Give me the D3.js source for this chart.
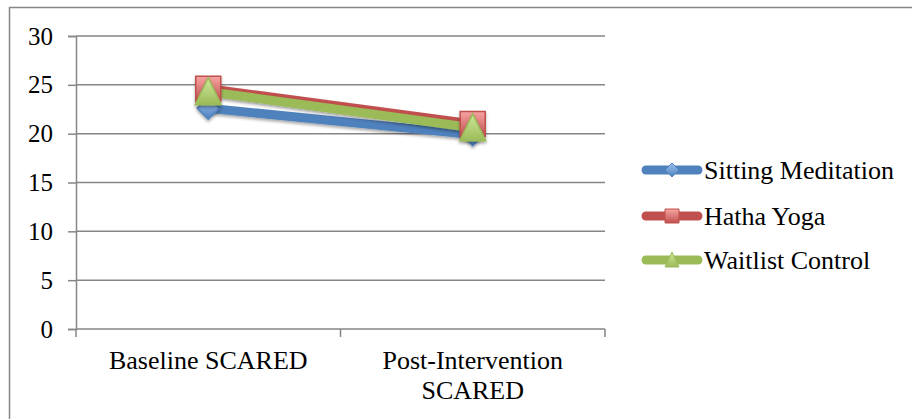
<!DOCTYPE html>
<html>
<head>
<meta charset="utf-8">
<script src="https://cdn.jsdelivr.net/npm/d3@7"></script>
<style>
  html, body { margin: 0; padding: 0; background: #fff; }
  svg { display: block; }
  svg text { font-family: "Liberation Serif", "Times New Roman", "DejaVu Serif", serif !important; fill: #000; }
</style>
</head>
<body>
<svg id="chart" width="912" height="419"></svg>
<script>
// SCARED anxiety scores by group, baseline vs. post-intervention
const categories = [["Baseline SCARED"], ["Post-Intervention", "SCARED"]];
const seriesNames = ["Sitting Meditation", "Hatha Yoga", "Waitlist Control"];
const sittingMeditation = [22.6, 19.9];
const hathaYoga = [24.6, 21.0];
const waitlistControl = [24.3, 20.6];
const yTicks = [0, 5, 10, 15, 20, 25, 30];

const seriesValues = [sittingMeditation, hathaYoga, waitlistControl];
const colors = ["#4F81BD", "#C0504D", "#9BBB59"];
const lightColors = ["#9CC0F2", "#F7A5A3", "#CFE89A"];
const markerShapes = ["diamond", "square", "triangle"];

const svg = d3.select("#chart");

// chart area frame
svg.append("rect")
  .attr("x", 9.5).attr("y", 7.5)
  .attr("width", 920).attr("height", 430)
  .attr("fill", "none").attr("stroke", "#868686").attr("stroke-width", 1.5);

const plot = { left: 76, right: 605, top: 36, bottom: 329 };

const x = d3.scaleBand()
  .domain(d3.range(categories.length))
  .range([plot.left, plot.right]);

const y = d3.scaleLinear()
  .domain([0, 30])
  .range([plot.bottom, plot.top]);

const defs = svg.append("defs");
colors.forEach((c, i) => {
  const g = defs.append("linearGradient")
    .attr("id", "grad" + i)
    .attr("x1", 0).attr("y1", 0).attr("x2", 0).attr("y2", 1);
  g.append("stop").attr("offset", "0%").attr("stop-color", lightColors[i]);
  g.append("stop").attr("offset", "100%").attr("stop-color", c);
});
const shadow = defs.append("filter").attr("id", "shadow")
  .attr("x", "-50%").attr("y", "-50%").attr("width", "200%").attr("height", "200%");
shadow.append("feDropShadow")
  .attr("dx", 0).attr("dy", 2).attr("stdDeviation", 1.8)
  .attr("flood-color", "#000").attr("flood-opacity", 0.35);

// horizontal gridlines
svg.append("g")
  .selectAll("line")
  .data(yTicks.filter(t => t > 0))
  .join("line")
  .attr("x1", plot.left).attr("x2", plot.right)
  .attr("y1", d => y(d)).attr("y2", d => y(d))
  .attr("stroke", "#868686").attr("stroke-width", 1.5);

// y axis
const yAxis = svg.append("g")
  .attr("transform", `translate(${plot.left},0)`)
  .call(d3.axisLeft(y).tickValues(yTicks).tickSize(8).tickPadding(15));
yAxis.attr("font-family", null).attr("font-size", null);
yAxis.select(".domain").attr("stroke", "#868686").attr("stroke-width", 1.5);
yAxis.selectAll(".tick line").attr("stroke", "#868686").attr("stroke-width", 1.5);
yAxis.selectAll(".tick text")
  .attr("font-size", 25).attr("fill", "#000");

// x axis with boundary ticks
const xAxisG = svg.append("g");
xAxisG.append("line")
  .attr("x1", plot.left).attr("x2", plot.right)
  .attr("y1", plot.bottom).attr("y2", plot.bottom)
  .attr("stroke", "#868686").attr("stroke-width", 1.5);
const boundaries = d3.range(categories.length + 1).map(i =>
  i < categories.length ? x(i) : x(i - 1) + x.bandwidth());
xAxisG.selectAll("line.tick")
  .data(boundaries)
  .join("line").attr("class", "tick")
  .attr("x1", d => d).attr("x2", d => d)
  .attr("y1", plot.bottom).attr("y2", plot.bottom + 8)
  .attr("stroke", "#868686").attr("stroke-width", 1.5);

const xLabels = xAxisG.selectAll("text.cat")
  .data(categories)
  .join("text").attr("class", "cat")
  .attr("x", (d, i) => x(i) + x.bandwidth() / 2)
  .attr("y", 369)
  .attr("text-anchor", "middle")
  .attr("font-size", 26);
xLabels.selectAll("tspan")
  .data(d => d)
  .join("tspan")
  .attr("x", function () { return d3.select(this.parentNode).attr("x"); })
  .attr("dy", (d, i) => i === 0 ? 0 : 30)
  .text(d => d);

// marker path generator
function markerPath(shape, s) {
  const h = s * 0.5;
  if (shape === "diamond") return `M0,${-h}L${h},0L0,${h}L${-h},0Z`;
  if (shape === "square") return `M${-h},${-h}H${h}V${h}H${-h}Z`;
  return `M0,${-h - 1}L${h},${h}L${-h},${h}Z`;
}
const markerSizes = [22, 25, 26];

const line = d3.line()
  .x((d, i) => x(i) + x.bandwidth() / 2)
  .y(d => y(d));

// series lines and markers
seriesValues.forEach((vals, si) => {
  svg.append("path")
    .datum(vals)
    .attr("d", line)
    .attr("fill", "none")
    .attr("stroke", colors[si])
    .attr("stroke-width", 9)
    .attr("stroke-linecap", "round")
    .attr("filter", "url(#shadow)");
});
seriesValues.forEach((vals, si) => {
  svg.append("g")
    .selectAll("path")
    .data(vals)
    .join("path")
    .attr("transform", (d, i) => `translate(${x(i) + x.bandwidth() / 2},${y(d)})`)
    .attr("d", markerPath(markerShapes[si], markerSizes[si]))
    .attr("fill", `url(#grad${si})`)
    .attr("stroke", colors[si])
    .attr("stroke-width", 1.5)
    .attr("filter", "url(#shadow)");
});

// legend
const legend = svg.append("g");
const legendY = [170, 216, 260];
seriesNames.forEach((name, si) => {
  const g = legend.append("g").attr("transform", `translate(0,${legendY[si]})`);
  g.append("line")
    .attr("x1", 646).attr("x2", 698)
    .attr("stroke", colors[si]).attr("stroke-width", 9)
    .attr("stroke-linecap", "round");
  g.append("path")
    .attr("transform", "translate(672,0)")
    .attr("d", markerPath(markerShapes[si], 14))
    .attr("fill", `url(#grad${si})`)
    .attr("stroke", colors[si]).attr("stroke-width", 1);
  g.append("text")
    .attr("x", 704).attr("y", 0)
    .attr("dy", "0.35em")
    .attr("font-size", 26)
    .text(name);
});
</script>
</body>
</html>
